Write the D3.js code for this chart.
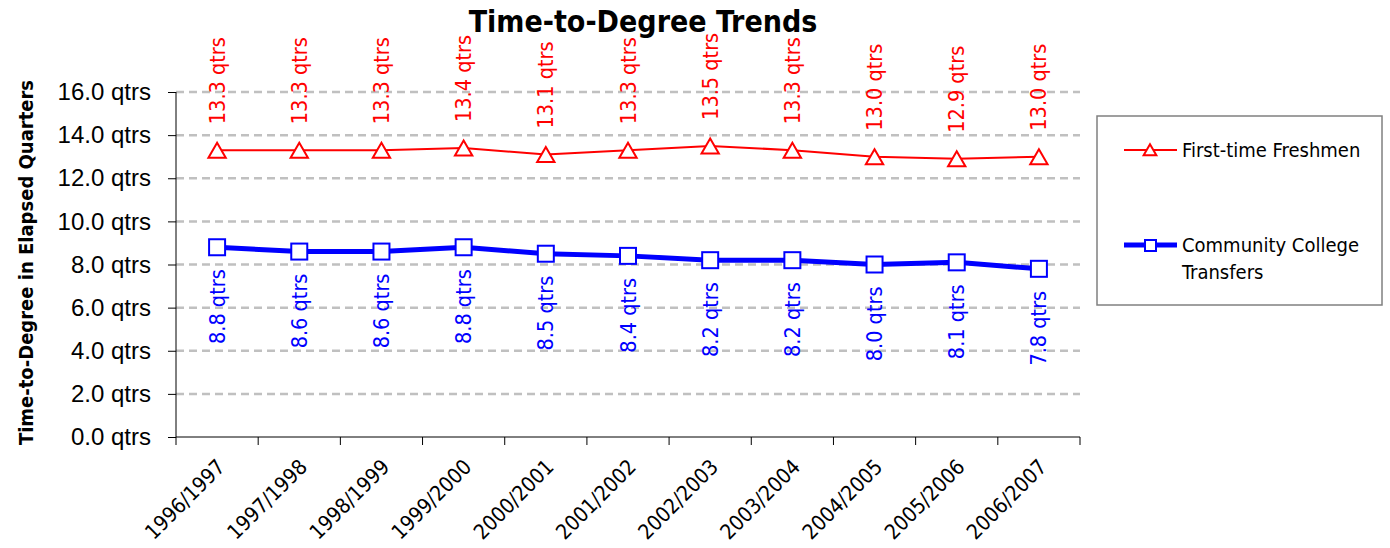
<!DOCTYPE html>
<html lang="en">
<head>
<meta charset="UTF-8" />
<title>Time-to-Degree Trends</title>
<script src="https://cdn.jsdelivr.net/npm/d3@7"></script>
<style>
  body { margin: 0; background: #fff; }
  svg { font-family: "Liberation Sans Narrow", "DejaVu Sans Condensed", "Roboto Condensed", sans-serif; }
</style>
</head>
<body>
<svg id="chart" width="1390" height="548"></svg>
<script>
  var years = ["1996/1997", "1997/1998", "1998/1999", "1999/2000", "2000/2001", "2001/2002",
               "2002/2003", "2003/2004", "2004/2005", "2005/2006", "2006/2007"];
  var freshmen = [13.3, 13.3, 13.3, 13.4, 13.1, 13.3, 13.5, 13.3, 13.0, 12.9, 13.0];
  var transfers = [8.8, 8.6, 8.6, 8.8, 8.5, 8.4, 8.2, 8.2, 8.0, 8.1, 7.8];
  var yTicks = [0, 2, 4, 6, 8, 10, 12, 14, 16];

  var svg = d3.select("#chart");
  var margin = { left: 176, right: 310, top: 92, bottom: 111 };
  var W = 1390, H = 548;

  var x = d3.scaleBand().domain(years).range([margin.left, W - margin.right]);
  var y = d3.scaleLinear().domain([0, 16]).range([H - margin.bottom, margin.top]);
  var cx = function (i) { return x(years[i]) + x.bandwidth() / 2; };

  // title
  svg.append("text")
    .attr("x", 643).attr("y", 32)
    .attr("text-anchor", "middle")
    .attr("font-size", 30).attr("font-weight", "bold")
    .text("Time-to-Degree Trends");

  // y axis title
  svg.append("text")
    .attr("transform", "translate(33," + (y(8) - 2) + ") rotate(-90)")
    .attr("text-anchor", "middle")
    .attr("font-size", 20).attr("font-weight", "bold")
    .text("Time-to-Degree in Elapsed Quarters");

  // gridlines
  svg.append("g")
    .selectAll("line")
    .data(yTicks.filter(function (d) { return d > 0; }))
    .join("line")
    .attr("x1", margin.left).attr("x2", W - margin.right)
    .attr("y1", function (d) { return y(d); }).attr("y2", function (d) { return y(d); })
    .attr("stroke", "#c0c0c0").attr("stroke-width", 2.5)
    .attr("stroke-dasharray", "8,5");

  // y axis
  var yAxis = svg.append("g")
    .attr("transform", "translate(" + margin.left + ",0)")
    .call(d3.axisLeft(y).tickValues(yTicks).tickSize(8).tickPadding(17)
      .tickFormat(function (d) { return d3.format(".1f")(d) + " qtrs"; }));
  yAxis.selectAll("text").attr("font-size", 24).attr("fill", "#000").attr("font-family", null);
  yAxis.select(".domain").attr("d", "M0," + y(16) + "V" + y(0));

  // x axis
  var xAxis = svg.append("g")
    .attr("transform", "translate(0," + y(0) + ")")
    .call(d3.axisBottom(x).tickSize(0).tickFormat(""));
  xAxis.select(".domain").attr("d", "M" + margin.left + ",0H" + (W - margin.right));
  xAxis.selectAll(".tick").remove();
  var bounds = years.map(function (d) { return x(d); }).concat([W - margin.right]);
  xAxis.selectAll("line.sep")
    .data(bounds)
    .join("line")
    .attr("class", "sep")
    .attr("x1", function (d) { return d; }).attr("x2", function (d) { return d; })
    .attr("y1", 0).attr("y2", 8)
    .attr("stroke", "#000");
  svg.append("g")
    .selectAll("text")
    .data(years)
    .join("text")
    .attr("transform", function (d, i) {
      return "translate(" + (cx(i) + 4) + "," + (y(0) + 26) + ") rotate(-45)";
    })
    .attr("text-anchor", "end")
    .attr("dy", "0.35em")
    .attr("font-size", 21)
    .text(function (d) { return d; });

  var line = d3.line()
    .x(function (d, i) { return cx(i); })
    .y(function (d) { return y(d); });

  // freshmen series
  svg.append("path").datum(freshmen)
    .attr("d", line).attr("fill", "none")
    .attr("stroke", "#ff0000").attr("stroke-width", 2);
  var tri = d3.symbol().type(d3.symbolTriangle).size(130);
  svg.append("g").selectAll("path")
    .data(freshmen).join("path")
    .attr("d", tri)
    .attr("transform", function (d, i) { return "translate(" + cx(i) + "," + (y(d) + 2.5) + ")"; })
    .attr("fill", "#fff").attr("stroke", "#ff0000").attr("stroke-width", 2);
  svg.append("g").selectAll("text")
    .data(freshmen).join("text")
    .attr("transform", function (d, i) {
      return "translate(" + cx(i) + "," + (y(d) - 26) + ") rotate(-90)";
    })
    .attr("dy", "0.35em")
    .attr("font-size", 21.5).attr("fill", "#ff0000")
    .text(function (d) { return d.toFixed(1) + " qtrs"; });

  // transfers series
  svg.append("path").datum(transfers)
    .attr("d", line).attr("fill", "none")
    .attr("stroke", "#0000ff").attr("stroke-width", 5);
  svg.append("g").selectAll("rect")
    .data(transfers).join("rect")
    .attr("x", function (d, i) { return cx(i) - 8; })
    .attr("y", function (d) { return y(d) - 8; })
    .attr("width", 16).attr("height", 16)
    .attr("fill", "#fff").attr("stroke", "#0000ff").attr("stroke-width", 2);
  svg.append("g").selectAll("text")
    .data(transfers).join("text")
    .attr("transform", function (d, i) {
      return "translate(" + cx(i) + "," + (y(d) + 22) + ") rotate(-90)";
    })
    .attr("text-anchor", "end")
    .attr("dy", "0.35em")
    .attr("font-size", 21.5).attr("fill", "#0000ff")
    .text(function (d) { return d.toFixed(1) + " qtrs"; });

  // legend
  var lg = svg.append("g");
  lg.append("rect")
    .attr("x", 1097).attr("y", 116).attr("width", 285).attr("height", 189)
    .attr("fill", "#fff").attr("stroke", "#808080").attr("stroke-width", 1.5);
  lg.append("line").attr("x1", 1124).attr("x2", 1177).attr("y1", 150).attr("y2", 150)
    .attr("stroke", "#ff0000").attr("stroke-width", 2);
  lg.append("path").attr("d", d3.symbol().type(d3.symbolTriangle).size(70))
    .attr("transform", "translate(1150,151.5)")
    .attr("fill", "#fff").attr("stroke", "#ff0000").attr("stroke-width", 2);
  lg.append("text").attr("x", 1182).attr("y", 150).attr("dy", "0.35em")
    .attr("font-size", 20).text("First-time Freshmen");
  lg.append("line").attr("x1", 1124).attr("x2", 1177).attr("y1", 245).attr("y2", 245)
    .attr("stroke", "#0000ff").attr("stroke-width", 5);
  lg.append("rect").attr("x", 1145).attr("y", 240).attr("width", 11).attr("height", 11)
    .attr("fill", "#fff").attr("stroke", "#0000ff").attr("stroke-width", 2);
  lg.append("text").attr("x", 1182).attr("y", 245).attr("dy", "0.35em")
    .attr("font-size", 20).text("Community College");
  lg.append("text").attr("x", 1182).attr("y", 272).attr("dy", "0.35em")
    .attr("font-size", 20).text("Transfers");
</script>
</body>
</html>
